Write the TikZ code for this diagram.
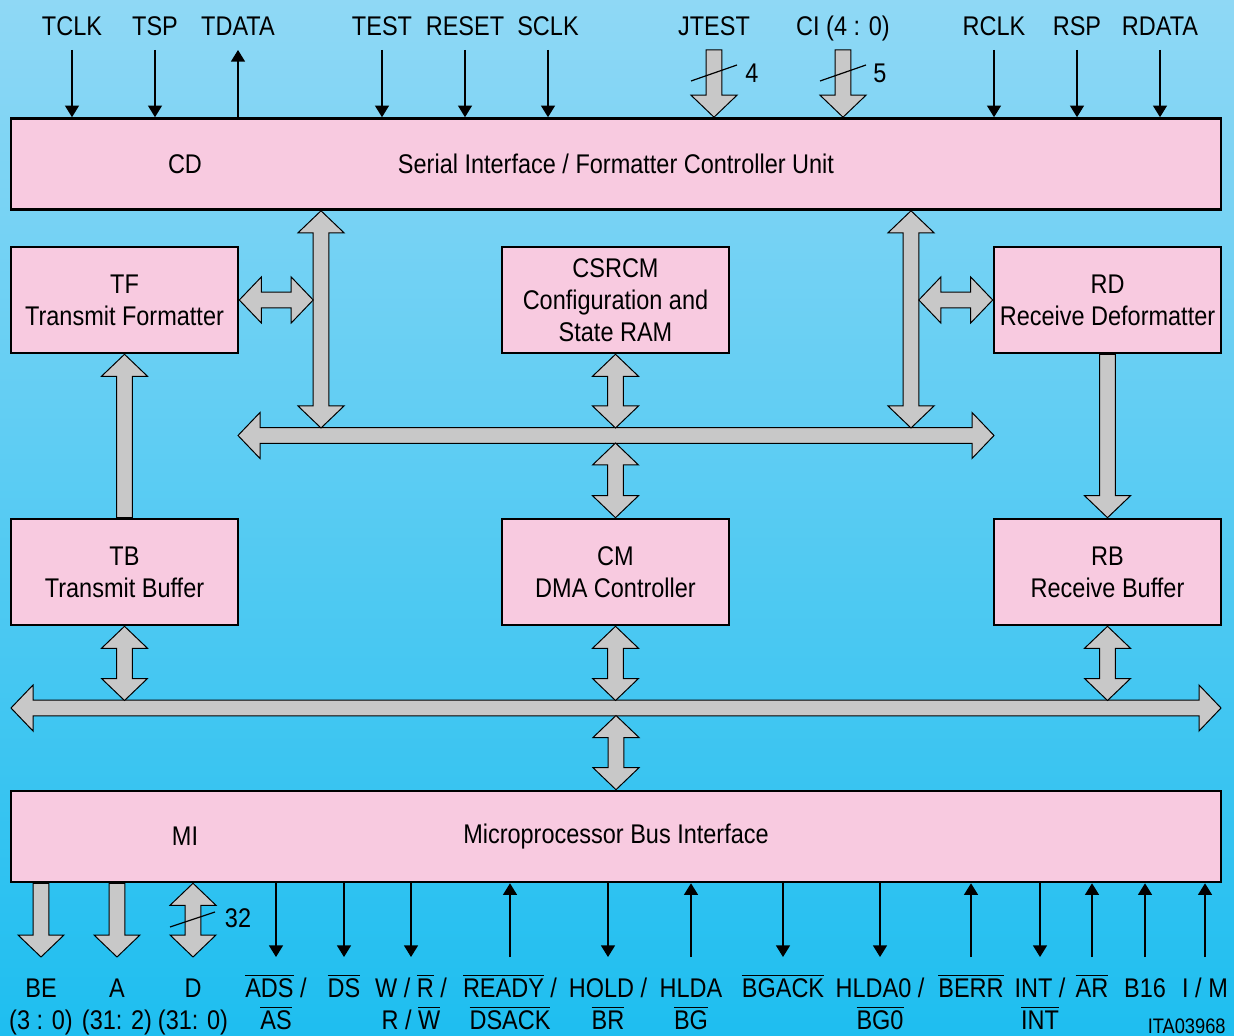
\documentclass[tikz,border=0pt]{standalone}
\usepackage{fontspec}
\setmainfont{Liberation Sans}[FakeStretch=0.87]
\usetikzlibrary{arrows.meta, positioning, calc}
\definecolor{bgtop}{RGB}{143,216,245}
\definecolor{bgbot}{RGB}{30,190,240}
\definecolor{blockpink}{RGB}{248,202,224}
\definecolor{busgray}{RGB}{200,200,200}

\newcommand{\lbl}{\fontsize{13.5}{16}\selectfont}
\newcommand{\ovl}[1]{$\overline{\mbox{#1}}$}
% fat bus arrow sizes
\newcommand{\fsw}{3.9pt}
\newcommand{\fhw}{11.5pt}
\newcommand{\fhl}{11pt}
% vertical, head at the lower point
\newcommand{\fatdown}[2]{\draw[fat] let \p1=#1, \p2=#2 in
  (\x1-\fsw,\y1) -- (\x1-\fsw,\y2+\fhl) -- (\x1-\fhw,\y2+\fhl) -- (\x1,\y2) -- (\x1+\fhw,\y2+\fhl) -- (\x1+\fsw,\y2+\fhl) -- (\x1+\fsw,\y1) -- cycle;}
% vertical, head at the upper point
\newcommand{\fatup}[2]{\draw[fat] let \p1=#1, \p2=#2 in
  (\x1,\y1) -- (\x1+\fhw,\y1-\fhl) -- (\x1+\fsw,\y1-\fhl) -- (\x1+\fsw,\y2) -- (\x1-\fsw,\y2) -- (\x1-\fsw,\y1-\fhl) -- (\x1-\fhw,\y1-\fhl) -- cycle;}
% vertical, both heads
\newcommand{\fatdbl}[2]{\draw[fat] let \p1=#1, \p2=#2 in
  (\x1,\y1) -- (\x1+\fhw,\y1-\fhl) -- (\x1+\fsw,\y1-\fhl) -- (\x1+\fsw,\y2+\fhl) -- (\x1+\fhw,\y2+\fhl) -- (\x1,\y2)
  -- (\x1-\fhw,\y2+\fhl) -- (\x1-\fsw,\y2+\fhl) -- (\x1-\fsw,\y1-\fhl) -- (\x1-\fhw,\y1-\fhl) -- cycle;}
% horizontal, both heads
\newcommand{\fatlr}[2]{\draw[fat] let \p1=#1, \p2=#2 in
  (\x1,\y1) -- (\x1+\fhl,\y1+\fhw) -- (\x1+\fhl,\y1+\fsw) -- (\x2-\fhl,\y1+\fsw) -- (\x2-\fhl,\y1+\fhw) -- (\x2,\y1)
  -- (\x2-\fhl,\y1-\fhw) -- (\x2-\fhl,\y1-\fsw) -- (\x1+\fhl,\y1-\fsw) -- (\x1+\fhl,\y1-\fhw) -- cycle;}

\tikzset{
  block/.style={draw, line width=1.3pt, fill=blockpink, inner sep=0pt, align=center, font=\lbl},
  unit/.style={block, minimum width=113.5pt, minimum height=53pt},
  wideunit/.style={block, minimum width=605pt, minimum height=45.5pt},
  pin/.style={font=\lbl, align=center, inner sep=0pt},
  sig/.style={-{Triangle[length=5.8pt, width=7pt]}, line width=0.6pt},
  fat/.style={draw, line width=0.5pt, fill=busgray},
}

\begin{document}
\begin{tikzpicture}[x=0.5pt, y=-0.5pt]
  \fill[top color=bgtop, bottom color=bgbot] (0,0) rectangle (1234,1036);
  \useasboundingbox (0,0) rectangle (1234,1036);

  % blocks
  \node[wideunit] (cd) at (616,164) {Serial Interface / Formatter Controller Unit};
  \node[pin] (cdname) at (185,164) {CD};
  \node[unit] (tf) at (124.5,300) {TF\\Transmit Formatter};
  \node[unit] (csrcm) at (615.5,300) {CSRCM\\Configuration and\\State RAM};
  \node[unit] (rd) at (1107.5,300) {RD\\Receive Deformatter};
  \node[unit] (tb) at (124.5,572) {TB\\Transmit Buffer};
  \node[unit] (cm) at (615.5,572) {CM\\DMA Controller};
  \node[unit] (rb) at (1107.5,572) {RB\\Receive Buffer};
  \node[wideunit] (mi) at (616,836.5) {Microprocessor Bus Interface};
  \node[pin] (miname) at (185,836.5) {MI};

  % internal and external buses
  \coordinate (ibL) at (238,435.5);
  \coordinate (ibR) at (994,435.5);
  \coordinate (ibtop) at (0,428);
  \coordinate (ibbot) at (0,443);
  \coordinate (ebL) at (11,708);
  \coordinate (ebR) at (1221,708);
  \coordinate (ebtop) at (0,700.5);
  \coordinate (ebbot) at (0,715.5);
  \coordinate (vL) at (321,0);
  \coordinate (vR) at (911,0);
  \fatlr{(ibL)}{(ibR)}
  \fatlr{(ebL)}{(ebR)}

  \fatdbl{(vL |- cd.south)}{(vL |- ibtop)}
  \fatdbl{(vR |- cd.south)}{(vR |- ibtop)}
  \fatlr{(tf.east)}{($(vL |- tf.east)+(-\fsw,0)$)}
  \fatlr{($(vR |- rd.west)+(\fsw,0)$)}{(rd.west)}
  \fatdbl{(csrcm.south)}{(csrcm.south |- ibtop)}
  \fatdbl{(cm.north |- ibbot)}{(cm.north)}
  \fatup{(tf.south)}{(tb.north)}
  \fatdown{(rd.south)}{(rb.north)}
  \fatdbl{(tb.south)}{(tb.south |- ebtop)}
  \fatdbl{(cm.south)}{(cm.south |- ebtop)}
  \fatdbl{(rb.south)}{(rb.south |- ebtop)}
  \fatdbl{(mi.north |- ebbot)}{(mi.north)}

  % serial side pins
  \foreach \x/\nm in {72/TCLK, 155/TSP, 382/TEST, 465/RESET, 548/SCLK, 994/RCLK, 1077/RSP, 1160/RDATA}{
    \node[pin, anchor=base] (\nm) at (\x,36) {\nm};
    \coordinate (\nm-s) at (\x,50);
    \draw[sig] (\nm-s) -- (\nm-s |- cd.north);
  }
  \node[pin, anchor=base] (TDATA) at (238,36) {TDATA};
  \coordinate (TDATA-s) at (238,50);
  \draw[sig] (TDATA-s |- cd.north) -- (TDATA-s);

  \node[pin, anchor=base] (JTEST) at (714,36) {JTEST};
  \coordinate (JTEST-s) at (714,50);
  \fatdown{(JTEST-s)}{(JTEST-s |- cd.north)}
  \draw[line width=0.6pt] (691,81) -- (737,65);
  \node[pin] (w4) at (752,73) {4};

  \node[pin, anchor=base] (CI) at (843,36) {CI (4 : 0)};
  \coordinate (CI-s) at (843,50);
  \fatdown{(CI-s)}{(CI-s |- cd.north)}
  \draw[line width=0.6pt] (820,81) -- (866,65);
  \node[pin] (w5) at (880,73) {5};

  % bus side pins (two-line labels sit on the lower baseline)
  \node[pin, anchor=base] (be) at (41,1029) {BE\\(3 : 0)};
  \node[pin, anchor=base] (a) at (117,1029) {A\\(31: 2)};
  \node[pin, anchor=base] (d) at (193,1029) {D\\(31: 0)};
  \coordinate (be-e) at (41,957);
  \coordinate (a-e) at (117,957);
  \coordinate (d-e) at (193,957);
  \fatdown{(be-e |- mi.south)}{(be-e)}
  \fatdown{(a-e |- mi.south)}{(a-e)}
  \fatdbl{(d-e |- mi.south)}{(d-e)}
  \draw[line width=0.6pt] (170,927) -- (215,912);
  \node[pin] (w32) at (238,918) {32};

  \node[pin, anchor=base] (ads) at (276,1029) {\ovl{ADS} /\\\ovl{AS}};
  \node[pin, anchor=base] (ds) at (344,997) {\ovl{DS}};
  \node[pin, anchor=base] (wr) at (411,1029) {W / \ovl{R} /\\R / \ovl{W}};
  \node[pin, anchor=base] (ready) at (510,1029) {\ovl{READY} /\\\ovl{DSACK}};
  \node[pin, anchor=base] (hold) at (608,1029) {HOLD /\\\ovl{BR}};
  \node[pin, anchor=base] (hlda) at (691,1029) {HLDA\\\ovl{BG}};
  \node[pin, anchor=base] (bgack) at (783,997) {\ovl{BGACK}};
  \node[pin, anchor=base] (hldao) at (880,1029) {HLDA0 /\\\ovl{BG0}};
  \node[pin, anchor=base] (berr) at (971,997) {\ovl{BERR}};
  \node[pin, anchor=base] (int) at (1040,1029) {INT /\\\ovl{INT}};
  \node[pin, anchor=base] (ar) at (1092,997) {\ovl{AR}};
  \node[pin, anchor=base] (bsixteen) at (1145,997) {B16};
  \node[pin, anchor=base] (im) at (1205,997) {I / M};

  \foreach \x/\nm in {276/ads, 344/ds, 411/wr, 608/hold, 783/bgack, 880/hldao, 1040/int}{
    \coordinate (\nm-e) at (\x,957);
    \draw[sig] (\nm-e |- mi.south) -- (\nm-e);
  }
  \foreach \x/\nm in {510/ready, 691/hlda, 971/berr, 1092/ar, 1145/bsixteen, 1205/im}{
    \coordinate (\nm-e) at (\x,957);
    \draw[sig] (\nm-e) -- (\nm-e |- mi.south);
  }

  \node[font=\fontsize{10.5}{12}\selectfont, anchor=base east, inner sep=0pt] (figid) at (1226,1033) {ITA03968};
\end{tikzpicture}
\end{document}
